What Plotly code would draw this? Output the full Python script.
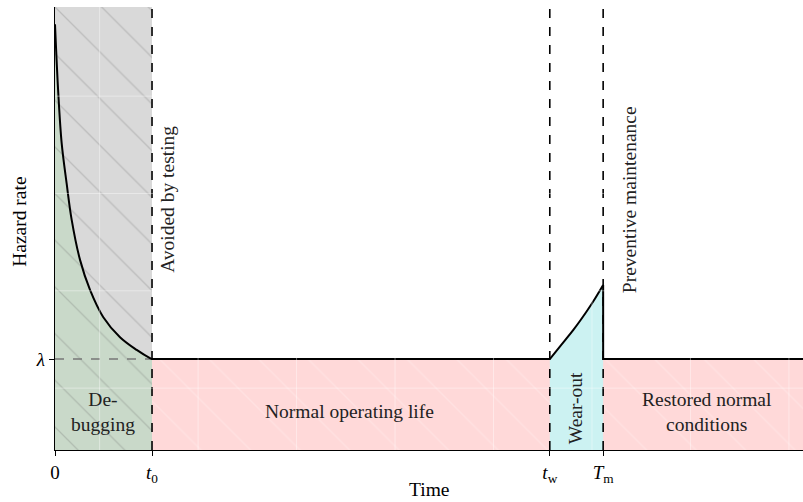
import plotly.graph_objects as go

# ---- data ----
T0 = 1.0          # end of debugging
TW = 5.1          # start of wear-out
TM = 5.65         # preventive maintenance
LAM = 1.0         # constant hazard rate
X_MAX = 7.71
Y_MAX = 4.87

# infant-mortality (debugging) part of the hazard curve
DEBUG_T = [0.0, 0.034, 0.069, 0.12, 0.172, 0.258, 0.361, 0.498, 0.67, 0.842, 0.979, 1.0]
DEBUG_H = [4.68, 3.92, 3.37, 2.93, 2.53, 2.09, 1.76, 1.46, 1.24, 1.10, 1.01, 1.0]

# wear-out part
WEAR_T = [5.1, 5.206, 5.343, 5.481, 5.567, 5.65]
WEAR_H = [1.0, 1.140, 1.320, 1.525, 1.665, 1.813]

X_TICKS = [0, T0, TW, TM]
X_TICK_LABELS = ["0", "<i>t</i><sub>0</sub>", "<i>t</i><sub>w</sub>", "<i>T</i><sub>m</sub>"]
Y_TICKS = [LAM]
Y_TICK_LABELS = ["<i>λ</i>"]

GRID_X = [0.46, 1.475, 2.49, 3.505, 4.52, 5.535, 6.55, 7.565]
GRID_Y = [0.68, 1.75, 2.82, 3.89]

FONT = "Liberation Serif"
FS = 19.5

fig = go.Figure()

fig.add_trace(go.Scatter(x=DEBUG_T, y=DEBUG_H, mode="lines", line=dict(width=0, shape="spline"),
                         fill="tozeroy", fillcolor="#c9d9c9", hoverinfo="skip", showlegend=False))
fig.add_trace(go.Scatter(x=DEBUG_T, y=[Y_MAX] * len(DEBUG_T), mode="lines", line=dict(width=0),
                         fill="tonexty", fillcolor="#d9d9d9", hoverinfo="skip", showlegend=False))
fig.add_trace(go.Scatter(x=[0, T0, T0, 0, 0], y=[0, 0, Y_MAX, Y_MAX, 0], mode="lines",
                         line=dict(width=0), fill="toself", fillcolor="rgba(0,0,0,0)",
                         fillpattern=dict(shape="\\", fgcolor="rgba(100,100,100,0.5)",
                                          bgcolor="rgba(0,0,0,0)", size=33, solidity=0.04),
                         hoverinfo="skip", showlegend=False))
fig.add_trace(go.Scatter(x=[T0, X_MAX], y=[LAM, LAM], mode="lines", line=dict(width=0),
                         fill="tozeroy", fillcolor="#ffd9d9",
                         fillpattern=dict(shape="\\", fgcolor="rgba(255,255,255,0.4)",
                                          bgcolor="#ffd9d9", size=35, solidity=0.04),
                         hoverinfo="skip", showlegend=False))
fig.add_trace(go.Scatter(x=WEAR_T, y=WEAR_H, mode="lines", line=dict(width=0, shape="spline"),
                         fill="tozeroy", fillcolor="#ccf2f2", hoverinfo="skip", showlegend=False))

fig.add_trace(go.Scatter(x=[0, T0], y=[LAM, LAM], mode="lines",
                         line=dict(color="#777777", width=1.6, dash="dash"),
                         hoverinfo="skip", showlegend=False))
fig.add_trace(go.Scatter(x=DEBUG_T, y=DEBUG_H, mode="lines", line=dict(color="black", width=2, shape="spline"),
                         hoverinfo="skip", showlegend=False))
fig.add_trace(go.Scatter(x=[T0, TW], y=[LAM, LAM], mode="lines", line=dict(color="black", width=2),
                         hoverinfo="skip", showlegend=False))
fig.add_trace(go.Scatter(x=WEAR_T, y=WEAR_H, mode="lines", line=dict(color="black", width=2, shape="spline"),
                         hoverinfo="skip", showlegend=False))
fig.add_trace(go.Scatter(x=[TM, TM, X_MAX], y=[WEAR_H[-1], LAM, LAM], mode="lines",
                         line=dict(color="black", width=2), hoverinfo="skip", showlegend=False))

for xv in [T0, TW, TM]:
    fig.add_trace(go.Scatter(x=[xv, xv], y=[0, Y_MAX], mode="lines",
                             line=dict(color="black", width=1.6, dash="dash"),
                             hoverinfo="skip", showlegend=False))

shapes = []
for gx in GRID_X:
    shapes.append(dict(type="line", xref="x", yref="paper", x0=gx, x1=gx, y0=0, y1=1,
                       line=dict(color="rgba(255,255,255,0.4)", width=1), layer="above"))
for gy in GRID_Y:
    shapes.append(dict(type="line", xref="paper", yref="y", x0=0, x1=1, y0=gy, y1=gy,
                       line=dict(color="rgba(255,255,255,0.4)", width=1), layer="above"))

tfont = dict(family=FONT, size=FS, color="#222222")
annotations = [
    dict(x=1.165, y=2.75, text="Avoided by testing", textangle=-90, showarrow=False, font=tfont),
    dict(x=5.93, y=2.75, text="Preventive maintenance", textangle=-90, showarrow=False, font=tfont),
    dict(x=0.49, y=0.42, text="De-<br>bugging", showarrow=False, font=tfont),
    dict(x=3.04, y=0.42, text="Normal operating life", showarrow=False, font=tfont),
    dict(x=5.36, y=0.46, text="Wear-out", textangle=-90, showarrow=False, font=tfont),
    dict(x=6.72, y=0.42, text="Restored normal<br>conditions", showarrow=False, font=tfont),
    # axis titles
    dict(xref="paper", yref="paper", x=0.5, y=0, yshift=-39, text="Time", showarrow=False,
         yanchor="middle", font=dict(family=FONT, size=FS, color="black")),
    dict(xref="paper", yref="paper", x=0, y=0.515, xshift=-35, text="Hazard rate", textangle=-90,
         showarrow=False, xanchor="center", font=dict(family=FONT, size=FS, color="black")),
]

fig.update_layout(
    width=803, height=502,
    margin=dict(l=55, r=0, t=7, b=52, autoexpand=False),
    plot_bgcolor="white", paper_bgcolor="white",
    font=dict(family=FONT, size=FS, color="black"),
    shapes=shapes, annotations=annotations,
    xaxis=dict(range=[0, X_MAX], tickvals=X_TICKS, ticktext=X_TICK_LABELS, automargin=False,
               showgrid=False, zeroline=False, showline=True, linecolor="black", linewidth=1.2,
               ticks="outside", ticklen=5, tickcolor="black", tickfont=dict(size=19)),
    yaxis=dict(range=[0, Y_MAX], tickvals=Y_TICKS, ticktext=Y_TICK_LABELS, automargin=False,
               showgrid=False, zeroline=False, showline=True, linecolor="black", linewidth=1.2,
               ticks="outside", ticklen=5, tickcolor="black", tickfont=dict(size=19)),
)

fig.write_html("out.html", config={"displayModeBar": False},
               post_script="document.body.style.margin='0';document.body.style.overflow='hidden';")
